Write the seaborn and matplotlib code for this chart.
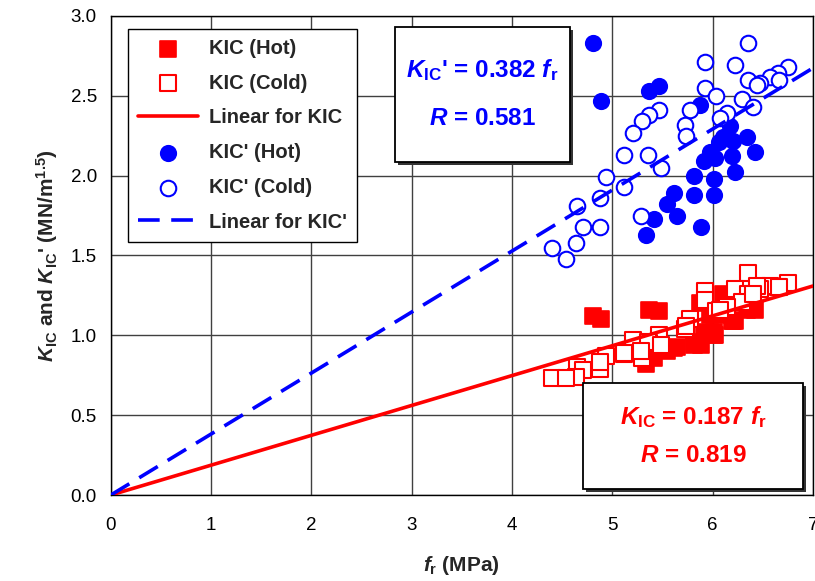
import matplotlib
matplotlib.use("Agg")
import matplotlib.pyplot as plt
import numpy as np
import pandas as pd
import seaborn as sns
from matplotlib.patches import Rectangle

# Flexural strength of specimens (MPa)
fr_hot = [4.81, 4.89, 5.37, 5.47, 5.87, 6.17, 6.10, 6.06, 6.34, 6.20, 6.42, 5.97, 6.02,
          5.91, 6.19, 6.22, 5.81, 6.01, 5.61, 5.81, 6.01, 5.54, 5.64, 5.42, 5.34, 5.88]
fr_cold = [6.35, 5.92, 6.22, 6.75, 6.65, 6.57, 6.35, 6.47, 6.44, 6.66, 5.92, 6.03, 6.29,
           6.40, 6.14, 6.07, 5.77, 5.72, 5.73, 5.47, 5.37, 5.30, 5.21, 5.12, 5.36, 5.48,
           4.94, 5.12, 4.88, 4.65, 5.29, 4.71, 4.88, 4.64, 4.40, 4.54]

# Fracture toughness KIC (MN/m^1.5)
kic_hot = [1.12, 1.10, 1.16, 1.15, 1.20, 1.20, 1.26, 1.13, 1.16, 1.09, 1.16, 1.13, 1.00,
           1.02, 1.09, 1.09, 0.94, 1.00, 0.92, 0.96, 1.02, 0.90, 0.93, 0.86, 0.82, 0.94]
kic_cold = [1.39, 1.28, 1.29, 1.33, 1.30, 1.31, 1.26, 1.29, 1.31, 1.30, 1.22, 1.15, 1.21,
            1.26, 1.18, 1.16, 1.10, 1.04, 1.06, 1.00, 0.95, 0.86, 0.97, 0.88, 0.96, 0.94,
            0.87, 0.89, 0.79, 0.80, 0.90, 0.78, 0.83, 0.74, 0.73, 0.73]

# Fracture toughness KIC' (MN/m^1.5)
kicp_hot = [2.83, 2.47, 2.53, 2.56, 2.44, 2.31, 2.24, 2.21, 2.24, 2.22, 2.15, 2.15, 2.11,
            2.09, 2.12, 2.02, 2.00, 1.98, 1.89, 1.88, 1.88, 1.82, 1.75, 1.73, 1.63, 1.68]
kicp_cold = [2.83, 2.71, 2.69, 2.68, 2.64, 2.62, 2.60, 2.58, 2.57, 2.60, 2.55, 2.50, 2.48,
             2.43, 2.39, 2.36, 2.41, 2.32, 2.25, 2.41, 2.38, 2.34, 2.27, 2.13, 2.13, 2.05,
             1.99, 1.93, 1.86, 1.81, 1.75, 1.68, 1.68, 1.58, 1.55, 1.48]

# Linear fits through the origin
slope_kic = 0.187
slope_kicp = 0.382
r_kic = 0.819
r_kicp = 0.581
fit_x = [0.0, 7.0]

x_ticks = [0, 1, 2, 3, 4, 5, 6, 7]
y_ticks = [0.0, 0.5, 1.0, 1.5, 2.0, 2.5, 3.0]

sns.set_style("white")
plt.rcParams["font.family"] = ["Liberation Sans", "DejaVu Sans"]
plt.rcParams["mathtext.fontset"] = "custom"
plt.rcParams["mathtext.rm"] = "Liberation Sans:bold"
plt.rcParams["mathtext.bf"] = "Liberation Sans:bold"
plt.rcParams["mathtext.it"] = "Liberation Sans:italic:bold"

RED = "#ff0000"
BLUE = "#0000ff"

fig = plt.figure(figsize=(8.15, 5.81), dpi=100)
ax = fig.add_axes([0.136, 0.148, 0.8615, 0.8245])

df_hot = pd.DataFrame({"fr": fr_hot, "kic": kic_hot, "kicp": kicp_hot})
df_cold = pd.DataFrame({"fr": fr_cold, "kic": kic_cold, "kicp": kicp_cold})
df_fit = pd.DataFrame({"fr": fit_x,
                       "kic": [slope_kic * v for v in fit_x],
                       "kicp": [slope_kicp * v for v in fit_x]})

ms = 125
sns.scatterplot(data=df_hot, x="fr", y="kic", marker="s", s=ms, color=RED,
                edgecolor=RED, linewidth=1.2, ax=ax, label="KIC (Hot)", zorder=3)
sns.scatterplot(data=df_cold, x="fr", y="kic", marker="s", s=ms, facecolor="white",
                edgecolor=RED, linewidth=1.5, ax=ax, label="KIC (Cold)", zorder=3)
sns.lineplot(data=df_fit, x="fr", y="kic", color=RED, linewidth=2.6, ax=ax,
             label="Linear for KIC", zorder=4)
sns.scatterplot(data=df_hot, x="fr", y="kicp", marker="o", s=ms, color=BLUE,
                edgecolor=BLUE, linewidth=1.2, ax=ax, label="KIC' (Hot)", zorder=3)
sns.scatterplot(data=df_cold, x="fr", y="kicp", marker="o", s=ms, facecolor="white",
                edgecolor=BLUE, linewidth=1.5, ax=ax, label="KIC' (Cold)", zorder=3)
sns.lineplot(data=df_fit, x="fr", y="kicp", color=BLUE, linewidth=2.6, ax=ax,
             label="Linear for KIC'", zorder=4, dashes=False)
ax.lines[-1].set_dashes([6, 3.2])

ax.set_xlim(0, 7)
ax.set_ylim(0, 3.0)
ax.set_xticks(x_ticks)
ax.set_yticks(y_ticks)
ax.set_xticklabels([str(v) for v in x_ticks])
ax.set_yticklabels([f"{v:.1f}" for v in y_ticks])
ax.tick_params(axis="x", labelsize=13.5, length=0, pad=16, colors="black")
ax.tick_params(axis="y", labelsize=13.5, length=0, pad=10, colors="black")
ax.grid(True, color="#404040", linewidth=1.0)
ax.set_axisbelow(True)
for sp in ax.spines.values():
    sp.set_color("black")
    sp.set_linewidth(1.0)

ax.set_xlabel(r"$f_{\mathrm{r}}$ (MPa)", fontsize=15, fontweight="bold", labelpad=14)
ax.set_ylabel(r"$K_{\mathrm{IC}}$ and $K_{\mathrm{IC}}$' (MN/m$^{1.5}$)",
              fontsize=15, fontweight="bold", labelpad=8)

handles, labels = ax.get_legend_handles_labels()
leg = ax.legend(handles, labels, loc="upper left", bbox_to_anchor=(0.024, 0.973),
                borderaxespad=0, prop={"weight": "bold", "size": 14.5}, frameon=True,
                fancybox=False, edgecolor="black", framealpha=1, borderpad=0.5,
                labelspacing=0.78, handlelength=3.0, handletextpad=0.55)
leg.get_frame().set_linewidth(1.0)

# Fit equation boxes with a slight shadow
def eq_box(x0, y0, x1, y1, lines, color):
    shadow = Rectangle((x0 + 3, y0 - 3), x1 - x0, y1 - y0, transform=None,
                       facecolor="#333333", edgecolor="none", zorder=5)
    box = Rectangle((x0, y0), x1 - x0, y1 - y0, transform=None,
                    facecolor="white", edgecolor="black", linewidth=1.3, zorder=6)
    fig.patches.extend([shadow, box])
    cx = (x0 + x1) / 2
    for i, t in enumerate(lines):
        ty = y1 - (y1 - y0) * (0.32 + 0.36 * i)
        fig.text(cx / fig.bbox.width, ty / fig.bbox.height, t, ha="center", va="center",
                 color=color, fontsize=17.5, fontweight="bold", zorder=7)

H = 581
eq_box(395, H - 162, 570, H - 27,
       [rf"$K_{{\mathrm{{IC}}}}$' = {slope_kicp:.3f} $f_{{\mathrm{{r}}}}$",
        rf"$R$ = {r_kicp:.3f}"], BLUE)
eq_box(583, H - 489, 803, H - 383,
       [rf"$K_{{\mathrm{{IC}}}}$ = {slope_kic:.3f} $f_{{\mathrm{{r}}}}$",
        rf"$R$ = {r_kic:.3f}"], RED)

fig.savefig("out.png", dpi=100)
